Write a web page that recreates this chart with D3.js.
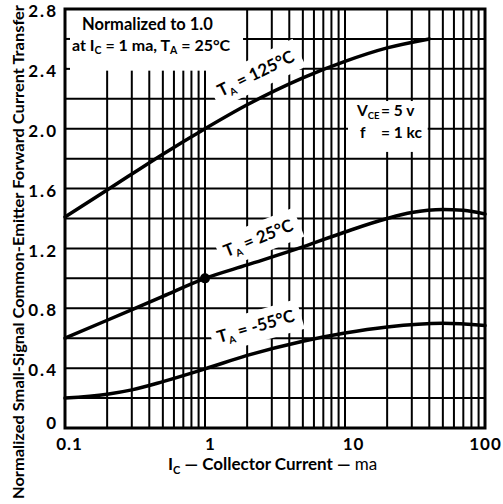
<!DOCTYPE html>
<html><head><meta charset="utf-8">
<script src="https://cdn.jsdelivr.net/npm/d3@7"></script>
<style>
body{margin:0;background:#fff}
svg text{font-family:Lato,"DejaVu Sans",sans-serif;font-weight:bold;fill:#000}
</style>
</head><body>
<svg id="c" width="503" height="504"></svg>
<script>
// ---- data ----
const curve125 = [[0.1,1.41],[0.2,1.59],[0.5,1.83],[1,2.0],[2,2.16],[5,2.34],[10,2.45],[20,2.54],[40,2.6]];
const curve25  = [[0.1,0.6],[0.2,0.72],[0.5,0.88],[1,1.0],[2,1.09],[5,1.21],[10,1.31],[20,1.40],[30,1.44],[50,1.46],[70,1.455],[100,1.43]];
const curveM55 = [[0.1,0.2],[0.2,0.226],[0.3,0.255],[0.5,0.31],[1,0.395],[2,0.485],[5,0.58],[10,0.635],[20,0.675],[50,0.70],[100,0.685]];
const refPoint = [[1,1.0]];
const yTicks = [0,0.4,0.8,1.2,1.6,2.0,2.4,2.8];
const yTickLabels = ["0","0.4","0.8","1.2","1.6","2.0","2.4","2.8"];
const yGrid = [0.2,0.4,0.6,0.8,1.0,1.2,1.4,1.6,1.8,2.0,2.2,2.4,2.6];
const xTicks = [0.1,1,10,100];
const xTickLabels = ["0.1","1","10","100"];
const xGrid = [0.2,0.3,0.4,0.5,0.6,0.7,0.8,0.9,1,2,3,4,5,6,7,8,9,10,20,30,40,50,60,70,80,90];
const curveLabels = [
  {t:"125°C", I:2.3, v:2.37, a:-26},
  {t:"25°C",  I:2.4, v:1.27, a:-22},
  {t:"-55°C", I:2.3, v:0.68, a:-16}
];

// ---- layout ----
const svg = d3.select("#c");
const x = d3.scaleLog().domain([0.1,100]).range([65,485]);
const y = d3.scaleLinear().domain([0,2.8]).range([428,9]);

// grid
const grid = svg.append("g").attr("stroke","#000").attr("stroke-width",2);
grid.selectAll("line.h").data(yGrid).join("line")
  .attr("x1",x(0.1)).attr("x2",x(100)).attr("y1",d=>y(d)).attr("y2",d=>y(d));
grid.selectAll("line.v").data(xGrid).join("line")
  .attr("x1",d=>x(d)).attr("x2",d=>x(d)).attr("y1",y(0)).attr("y2",y(2.8));

// white patches (label areas)
const patches = [
  {i0:0.1, i1:1.87, v0:2.388, v1:2.8},
  {i0:10.25, i1:39, v0:1.845, v1:2.185}
];
svg.append("g").selectAll("rect").data(patches).join("rect")
  .attr("x",d=>x(d.i0)+1.5).attr("y",d=>y(d.v1))
  .attr("width",d=>x(d.i1)-x(d.i0)-1.5).attr("height",d=>y(d.v0)-y(d.v1))
  .attr("fill","#fff");

// small stubs at left for hidden gridlines
svg.append("g").selectAll("line").data([2.4,2.6]).join("line")
  .attr("x1",x(0.1)).attr("x2",x(0.1)+5).attr("y1",d=>y(d)).attr("y2",d=>y(d))
  .attr("stroke","#000").attr("stroke-width",2);

// curve label backgrounds + labels
const lg = svg.append("g").selectAll("g").data(curveLabels).join("g")
  .attr("transform",d=>`translate(${x(d.I)},${y(d.v)}) rotate(${d.a})`);
const lt = lg.append("text").attr("text-anchor","middle").attr("dy","0.35em").style("font-size","17px");
lt.append("tspan").text("T");
lt.append("tspan").text("A").style("font-size","10px").attr("dy","4");
lt.append("tspan").text(" = ").attr("dy","-4");
lt.append("tspan").text(d=>d.t);
lg.each(function(){
  const g = d3.select(this), b = g.select("text").node().getBBox();
  g.insert("rect","text").attr("x",b.x-6).attr("y",b.y-4).attr("width",b.width+12).attr("height",b.height+8).attr("fill","#fff");
});

// curves
const line = d3.line().x(d=>x(d[0])).y(d=>y(d[1])).curve(d3.curveMonotoneX);
svg.append("g").selectAll("path").data([curve125,curve25,curveM55]).join("path")
  .attr("d",line).attr("fill","none").attr("stroke","#000").attr("stroke-width",3.5)
  .attr("stroke-linecap","round");
svg.append("g").selectAll("circle").data(refPoint).join("circle")
  .attr("cx",d=>x(d[0])).attr("cy",d=>y(d[1])).attr("r",5).attr("fill","#000");

lg.raise();

// frame
svg.append("rect").attr("x",x(0.1)).attr("y",y(2.8)).attr("width",x(100)-x(0.1)).attr("height",y(0)-y(2.8))
  .attr("fill","none").attr("stroke","#000").attr("stroke-width",3);

// axes
const yAxis = d3.axisLeft(y).tickValues(yTicks).tickSize(0).tickPadding(7)
  .tickFormat((d,i)=>yTickLabels[i]);
const ya = svg.append("g").attr("transform",`translate(${x(0.1)},0)`).call(yAxis);
ya.select(".domain").remove();
ya.selectAll("text").style("font-size","17px").style("letter-spacing","2px")
  .attr("dy",(d,i)=>i===0?"0em":"0.45em").attr("font-family",null);

const xAxis = d3.axisBottom(x).tickValues(xTicks).tickSize(0).tickPadding(10)
  .tickFormat((d,i)=>xTickLabels[i]);
const xa = svg.append("g").attr("transform",`translate(0,${y(0)})`).call(xAxis);
xa.select(".domain").remove();
const xdx = [4,5,8,0];
xa.selectAll("text").style("font-size","17px").style("letter-spacing","1px").attr("dx",(d,i)=>xdx[i]).attr("font-family",null);

// annotation top-left
svg.append("text").attr("x",82).attr("y",30).style("font-size","16.5px").text("Normalized to 1.0");
const a2 = svg.append("text").attr("x",72).attr("y",51).style("font-size","16px");
a2.append("tspan").text("at I");
a2.append("tspan").text("C").style("font-size","10.5px").attr("dy","3");
a2.append("tspan").text(" = 1 ma, T").attr("dy","-3");
a2.append("tspan").text("A").style("font-size","10.5px").attr("dy","3");
a2.append("tspan").text(" = 25°C").attr("dy","-3");

// conditions
const c1 = svg.append("text").attr("x",357).attr("y",116).style("font-size","15.5px");
c1.append("tspan").text("V");
c1.append("tspan").text("CE").style("font-size","9.5px").attr("dy","3");
c1.append("tspan").text("= 5 v").attr("dy","-3").attr("x",381);
const c2 = svg.append("text").attr("x",360).attr("y",138).style("font-size","15.5px");
c2.append("tspan").text("f");
c2.append("tspan").text("= 1 kc").attr("x",381);

// axis titles
const xt = svg.append("text").attr("x",168).attr("y",470).style("font-size","17px");
xt.append("tspan").text("I");
xt.append("tspan").text("C").style("font-size","11px").attr("dy","4");
xt.append("tspan").text(" — Collector Current — ").attr("dy","-4");
xt.append("tspan").text("ma").style("font-weight","normal");

svg.append("text").attr("transform","translate(24,252) rotate(-90)").attr("text-anchor","middle")
  .style("font-size","15px").attr("textLength",494).attr("lengthAdjust","spacingAndGlyphs")
  .text("Normalized Small-Signal Common-Emitter Forward Current Transfer");
</script>
</body></html>
